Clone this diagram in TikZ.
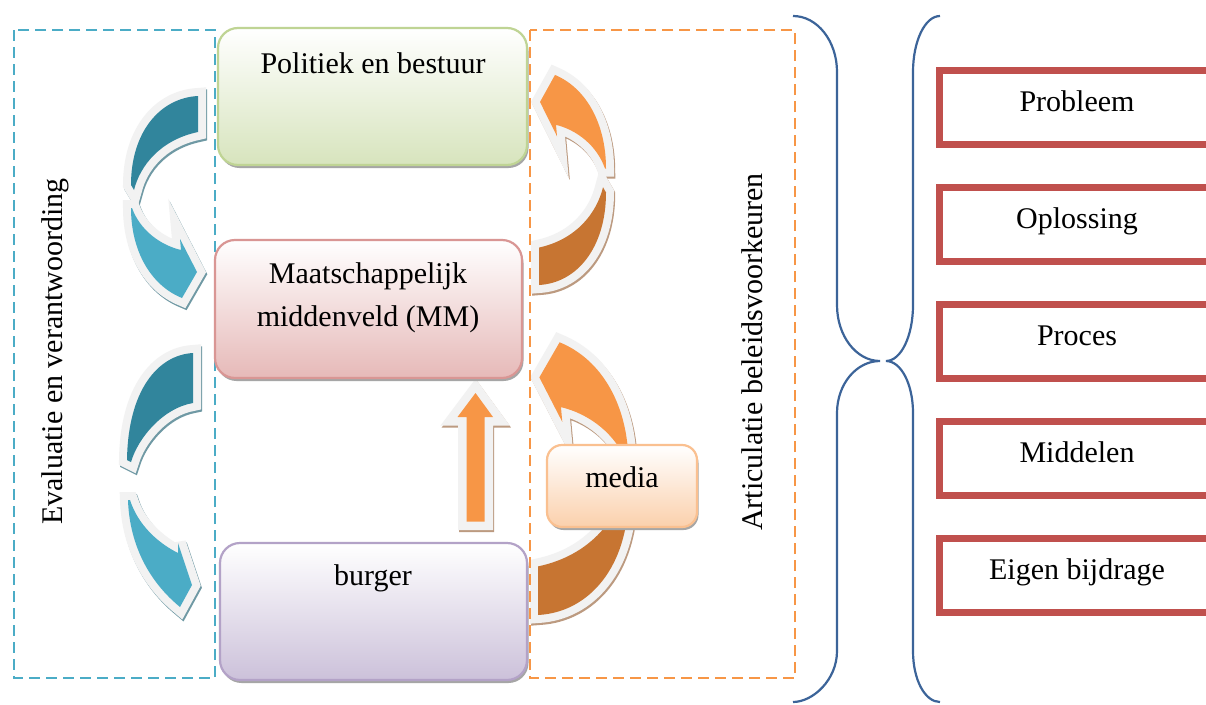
\documentclass[tikz,border=0pt]{standalone}
\usepackage{fontspec}
\setmainfont{Liberation Serif}
\definecolor{tealD}{HTML}{31859C}
\definecolor{tealL}{HTML}{4BACC6}
\definecolor{tealS}{HTML}{6F99A4}
\definecolor{orL}{HTML}{F79646}
\definecolor{orD}{HTML}{C77532}
\definecolor{orS}{HTML}{BC9A80}
\definecolor{glowc}{HTML}{F2F2F2}
\definecolor{redb}{HTML}{C0504D}
\definecolor{braceb}{HTML}{3C6499}
\definecolor{grnF}{HTML}{D7E4BD}
\definecolor{grnB}{HTML}{BFD494}
\definecolor{redF}{HTML}{E6B9B8}
\definecolor{redB}{HTML}{D99694}
\definecolor{purF}{HTML}{CCC1DA}
\definecolor{purB}{HTML}{B3A2C7}
\definecolor{medF}{HTML}{FBD0AC}
\definecolor{medB}{HTML}{FAC090}
\tikzset{
 txt/.style={font=\fontsize{30}{43}\selectfont, align=center, inner sep=0pt},
 rbox/.style={rounded corners=20pt, line width=2.2pt, inner sep=0pt, outer sep=0pt},
 shad/.style={fill=black!35, draw=none},
 dashbox/.style={dash pattern=on 11pt off 6pt, line width=2.6pt},
 glowpart/.style={draw=glowc, fill=glowc, line width=16pt, line join=miter, miter limit=6},
 ashadow/.style={draw=#1, fill=#1, line width=16pt, line join=miter, miter limit=6},
 redframe/.style={draw=redb, line width=6.7pt, inner sep=0pt, outer sep=0pt},
 bracepath/.style={draw=braceb, line width=2.2pt},
}
\def\ULdark{(0,0) .. controls (-38,2) and (-67,36) .. (-67,89) -- (-64,94) .. controls (-58,70) and (-38,44) .. (0,36) -- cycle}
\def\ULlight{(-67,112) .. controls (-67,154) and (-48,189) .. (-16,202) -- (-1,176) -- (-18,143) -- (-17,154) .. controls (-38,149) and (-58,134) .. (-66,112) -- cycle}
\def\LLdark{(0,0) .. controls (-35,2) and (-65,37) .. (-66,107) -- (-62,109) .. controls (-55,85) and (-30,55) .. (0,50) -- cycle}
\def\LLlight{(-65,147) .. controls (-64,180) and (-52,222) .. (-13,254) -- (-1,232) -- (-15,190) -- (-15,200) .. controls (-35,190) and (-55,172) .. (-63,147) -- cycle}
\def\UParr{(466.5,521.5) -- (466.5,417) -- (457.5,417) -- (475.5,393) -- (493,417) -- (484.5,417) -- (484.5,521.5) -- cycle}
\newcommand\curvedarrow[6]{%
  \begin{scope}[shift={(1.2,2)},#1]
    \path[ashadow=#6] #2;
    \path[ashadow=#6] #3;
  \end{scope}
  \begin{scope}[#1]
    \path[glowpart] #2;
    \path[fill=#4] #2;
    \path[glowpart] #3;
    \path[fill=#5] #3;
  \end{scope}}
\begin{document}
\begin{tikzpicture}[x=1pt,y=-1pt]
\useasboundingbox (0,0) rectangle (1206,704);
\clip (0,0) rectangle (1206,704);
\fill[white] (0,0) rectangle (1206,704);

% curved arrows
\curvedarrow{shift={(198,96)}}{\ULdark}{\ULlight}{tealD}{tealL}{tealS}
\curvedarrow{shift={(193,353)}}{\LLdark}{\LLlight}{tealD}{tealL}{tealS}
\curvedarrow{shift={(539,285)},rotate=180,yscale=1.04}{\ULdark}{\ULlight}{orD}{orL}{orS}
\curvedarrow{shift={(538,615)},rotate=180,scale=1.35}{\ULdark}{\ULlight}{orD}{orL}{orS}

% straight up arrow
\path[ashadow=orS, line width=17pt, shift={(1.2,2)}] \UParr;
\path[glowpart, line width=17pt] \UParr;
\path[fill=orL] \UParr;

% dashed frames
\draw[dashbox, draw=tealL] (14,30) rectangle (215,678);
\draw[dashbox, draw=orL] (530,30) rectangle (795,678);

% boxes
\node[rbox, shad, minimum width=309pt, minimum height=137pt] (pbs) at (374,99.5) {};
\node[rbox, draw=grnB, top color=white, bottom color=grnF, minimum width=309pt, minimum height=137pt] (pb) at (372.5,96.5) {};
\node[txt, anchor=base] (pbt) at (373,73) {Politiek en bestuur};

\node[rbox, shad, minimum width=307pt, minimum height=138pt] (mms) at (370,312) {};
\node[rbox, draw=redB, top color=white, bottom color=redF, minimum width=307pt, minimum height=138pt] (mm) at (368.5,309) {};
\node[txt, anchor=base] (mmt1) at (368,283) {Maatschappelijk};
\node[txt, anchor=base] (mmt2) at (368,326) {middenveld (MM)};

\node[rbox, shad, minimum width=307pt, minimum height=137pt] (bus) at (375,614.5) {};
\node[rbox, draw=purB, top color=white, bottom color=purF, minimum width=307pt, minimum height=137pt] (bu) at (373.5,611.5) {};
\node[txt, anchor=base] (but) at (373,585) {burger};

\node[rbox, rounded corners=15pt, shad, minimum width=150pt, minimum height=82pt] (mes) at (623.5,489) {};
\node[rbox, rounded corners=15pt, draw=medB, top color=white, bottom color=medF, minimum width=150pt, minimum height=82pt] (me) at (622,486) {};
\node[txt, anchor=base] (met) at (622,487) {media};

% vertical labels
\node[txt, anchor=base, rotate=90] (ev) at (62,351.5) {Evaluatie en verantwoording};
\node[txt, anchor=base, rotate=90] (ar) at (762,352) {Articulatie beleidsvoorkeuren};

% braces
\draw[bracepath] (793,16) .. controls (817.3,16) and (837,41) .. (837,72) -- (837,305)
  .. controls (837,336) and (856.3,361) .. (880,361)
  .. controls (856.3,361) and (837,384.3) .. (837,413) -- (837,651)
  .. controls (837,680) and (812.7,702) .. (793,702);
\draw[bracepath] (940,16) .. controls (925,16) and (913,41) .. (913,72) -- (913,305)
  .. controls (913,336) and (901,361) .. (886,361)
  .. controls (901,361) and (913,384) .. (913,413) -- (913,651)
  .. controls (913,680) and (925,702) .. (940,702);

% red boxes
\node[redframe, minimum width=300pt, minimum height=74pt, anchor=north west] (r1) at (939.5,70.5) {};
\node[redframe, minimum width=300pt, minimum height=74pt, anchor=north west] (r2) at (939.5,187.5) {};
\node[redframe, minimum width=300pt, minimum height=74pt, anchor=north west] (r3) at (939.5,304.5) {};
\node[redframe, minimum width=300pt, minimum height=74pt, anchor=north west] (r4) at (939.5,421.5) {};
\node[redframe, minimum width=300pt, minimum height=74pt, anchor=north west] (r5) at (939.5,538.5) {};
\node[txt, anchor=base] (t1) at (1077,111) {Probleem};
\node[txt, anchor=base] (t2) at (1077,228) {Oplossing};
\node[txt, anchor=base] (t3) at (1077,345) {Proces};
\node[txt, anchor=base] (t4) at (1077,462) {Middelen};
\node[txt, anchor=base] (t5) at (1077,579) {Eigen bijdrage};
\end{tikzpicture}
\end{document}
